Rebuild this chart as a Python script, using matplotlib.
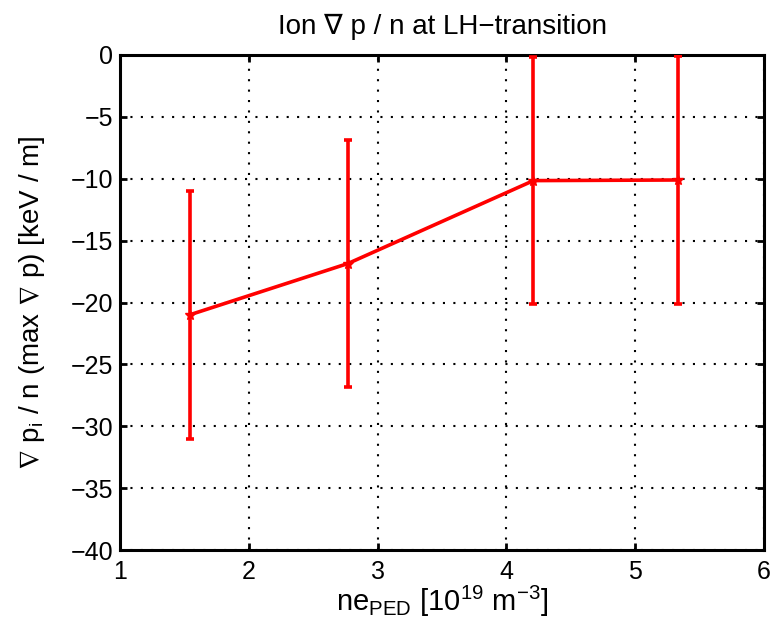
import matplotlib
matplotlib.use("Agg")
import matplotlib.pyplot as plt

ne_ped = [1.54, 2.77, 4.21, 5.33]
grad_p = [-21.0, -16.85, -10.15, -10.1]
err = [10.0, 10.0, 10.0, 10.0]
xticks = [1, 2, 3, 4, 5, 6]
yticks = [-40, -35, -30, -25, -20, -15, -10, -5, 0]

plt.rcParams['font.family'] = ['Liberation Sans', 'DejaVu Sans']
plt.rcParams['mathtext.fontset'] = 'custom'
plt.rcParams['mathtext.rm'] = 'Liberation Sans'
plt.rcParams['mathtext.it'] = 'Liberation Sans'
plt.rcParams['mathtext.fallback'] = 'stixsans'

fig = plt.figure(figsize=(7.72, 6.24), dpi=100)
ax = fig.add_axes([120 / 772, 74 / 624, 644 / 772, 495 / 624])

ax.errorbar(ne_ped, grad_p, yerr=err, color='red', lw=2.6, elinewidth=2.6,
            capsize=3, capthick=2.6, marker='*', markersize=7, zorder=3)

ax.set_xlim(1, 6)
ax.set_ylim(-40, 0)
ax.set_xticks(xticks)
ax.set_yticks(yticks)
ax.set_xticklabels([str(v) for v in xticks])
ax.set_yticklabels(['\u2212' + str(-v) if v < 0 else str(v) for v in yticks])
ax.grid(True, color='black', linestyle=(0, (1, 4)), linewidth=1.5)
ax.tick_params(direction='in', top=True, right=True, length=5, width=2,
               labelsize=18, pad=5)
ax.tick_params(axis='x', pad=7)
for s in ax.spines.values():
    s.set_linewidth(2.2)

ax.set_title('Ion \u2207 p / n at LH\u2212transition', fontsize=20, pad=15)
ax.set_xlabel(r'ne$_{\mathrm{PED}}$ [10$^{19}$ m$^{-3}$]', fontsize=21, labelpad=0)
ax.set_ylabel(r'$\nabla$ p$_{\mathrm{i}}$ / n (max $\nabla$ p) [keV / m]', fontsize=20)
ax.yaxis.set_label_coords(-0.114, 0.5)

fig.savefig('out.png', dpi=100)
